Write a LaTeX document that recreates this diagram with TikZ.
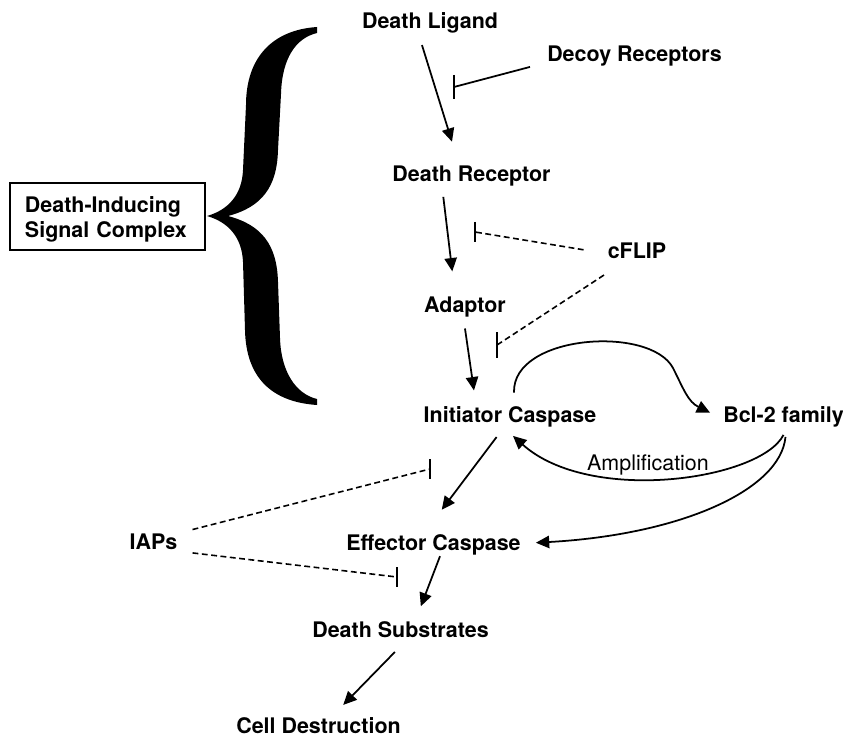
\documentclass[tikz,border=0pt]{standalone}
\usepackage{fontspec}
\setmainfont{TeX Gyre Heros}
\usepackage{tikz}
\usetikzlibrary{arrows.meta,calc}
\newcommand{\lblsize}{\fontsize{18.3pt}{21.3pt}\selectfont}

\begin{document}
\begin{tikzpicture}[x=0.03cm,y=-0.03cm]
    \tikzset{lbl/.style={font=\lblsize\bfseries, inner sep=0pt, text height=13pt, text depth=4pt, anchor=base},
             arr/.style={line width=1.5pt, -{Triangle[length=0.40cm,width=0.37cm]}},
             inh/.style={line width=1.35pt, dash pattern=on 5pt off 3pt},
             tbar/.style={line width=1.7pt}}
    \useasboundingbox (0,0) rectangle (843,736);

    \node[lbl] (lig) at (430,29) {Death Ligand};
    \node[lbl] (decoy) at (634.5,62) {Decoy Receptors};
    \node[lbl] (rec) at (471.5,182) {Death Receptor};
    \node[lbl] (cflip) at (637,259) {cFLIP};
    \node[lbl] (adapt) at (465,312) {Adaptor};
    \node[lbl] (init) at (510,422) {Initiator Caspase};
    \node[lbl] (bcl) at (783.5,422) {Bcl-2 family};
    \node[lbl, font=\lblsize] (ampl) at (648,470) {Amplification};
    \node[lbl] (iaps) at (153.5,549) {IAPs};
    \node[lbl] (eff) at (433.5,550) {Effector Caspase};
    \node[lbl] (subs) at (400.5,637) {Death Substrates};
    \node[lbl] (cell) at (318.5,733) {Cell Destruction};
    \node[lbl, draw, line width=0.9pt, anchor=center, align=left, text width=4.95cm,
          inner xsep=0.45cm, inner ysep=0pt, text height=25.6pt, text depth=31.6pt]
          (disc) at (107.5,216.5) {Death-Inducing\\Signal Complex};

    \fill (317,27) .. controls (272,30) and (246,58) .. (246,105)
        -- (243,170) .. controls (242,195) and (228,210) .. (207,216)
        .. controls (228,222) and (242,237) .. (243,262)
        -- (245,330) .. controls (246,378) and (272,402) .. (317,405)
        -- (317,399) .. controls (296,394) and (281,372) .. (280,338)
        -- (278,282) .. controls (277,245) and (262,225) .. (228,216)
        .. controls (262,207) and (277,187) .. (278,150)
        -- (281,94) .. controls (282,58) and (296,38) .. (317,33) -- cycle;

    \coordinate (dbar) at (454,87);
    \coordinate (fbar1) at (475,232);
    \coordinate (fbar2) at (497,345);
    \coordinate (ibar1) at (430,469);
    \coordinate (ibar2) at (397,577);

    \draw[arr, shorten <=0.35cm, shorten >=0.78cm] ($(lig.south)+(-11.5,0)$) -- ($(rec.north)+(-11.8,0)$);
    \draw[line width=1.5pt] ($(decoy.south west)+(-17,0)$) -- (dbar);
    \draw[arr, shorten <=0.30cm, shorten >=0.76cm] ($(rec.south)+(-29.4,0)$) -- ($(adapt.north)+(-9.7,0)$);
    \draw[inh, shorten <=0.73cm] (cflip.west) -- (fbar1);
    \draw[inh, shorten <=0.61cm] ($(cflip.south)+(-16,0)$) -- (fbar2);
    \draw[arr, shorten <=0.35cm, shorten >=0.49cm] ($(adapt.south)+(-1.7,0)$) -- ($(init.north)+(-33.7,0)$);
    \draw[arr] ($(init.north)+(4,-14)$) .. controls +(-2,-58) and +(-23,-43) .. (673,368)
        .. controls +(11,22) and +(-22,-11) .. ($(bcl.west)+(-13,-4)$);
    \draw[arr] ($(bcl.south)+(0,8)$) .. controls +(-23,45) and +(77,69) .. ($(init.south)+(3,9)$);
    \draw[arr] ($(bcl.south)+(2,10)$) .. controls +(-5,53) and +(145,-8) .. ($(eff.east)+(15,-2)$);
    \draw[arr, shorten <=0.38cm, shorten >=0.93cm] ($(init.south)+(-5.8,0)$) -- ($(eff.north)+(-10.4,0)$);
    \draw[inh] ($(iaps.north east)+(15,-4)$) -- (ibar1);
    \draw[inh] ($(iaps.south east)+(15,-1)$) -- (ibar2);
    \draw[arr, shorten <=0.04cm, shorten >=0.49cm] ($(eff.south)+(7,0)$) -- ($(subs.north)+(14.5,0)$);
    \draw[arr, shorten <=0.42cm, shorten >=0.53cm] ($(subs.south)+(4.2,0)$) -- ($(cell.north)+(12.4,0)$);

    \draw[tbar] (dbar) +(0,-12) -- +(0,12);
    \draw[tbar] (fbar1) +(0,-10) -- +(0,10);
    \draw[tbar] (fbar2) +(0,-13) -- +(0,13);
    \draw[tbar] (ibar1) +(0,-10) -- +(0,10);
    \draw[tbar] (ibar2) +(0,-10) -- +(0,10);
\end{tikzpicture}
\end{document}
